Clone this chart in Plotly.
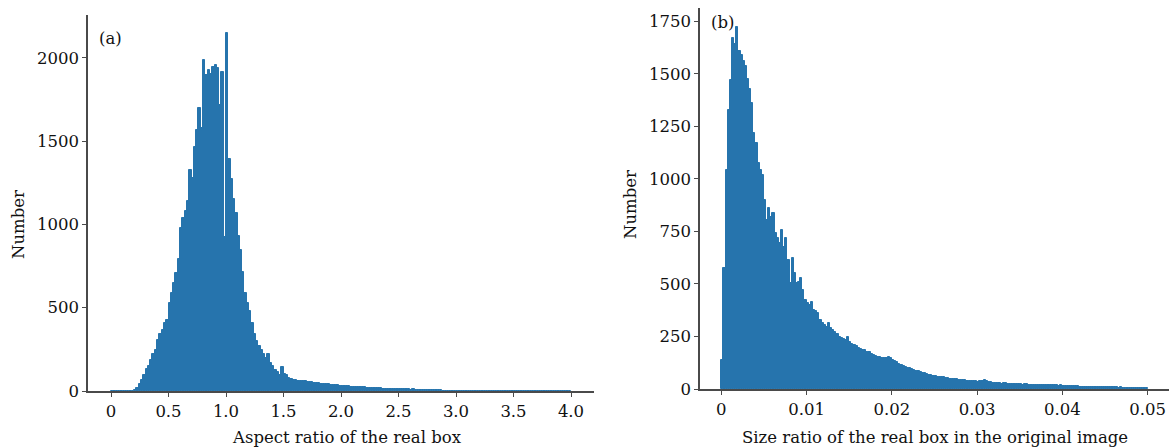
import numpy as np
import plotly.graph_objects as go

# ---------------- data ----------------
# (a) aspect ratio histogram: 200 bins of width 0.02 starting at 0
bin_start_a = 0.0
bin_width_a = 0.02
counts_a = [
    0, 0, 0, 0, 0, 0, 0, 0, 0, 3,
    8, 20, 40, 65, 95, 130, 150, 186, 220, 246,
    306, 340, 366, 406, 426, 526, 586, 646, 706, 790,
    976, 1040, 1080, 1140, 1326, 1276, 1466, 1566, 1696, 1576,
    1986, 1896, 1926, 1900, 1946, 1956, 1940, 1716, 1916, 926,
    2150, 1390, 1270, 1150, 1070, 930, 846, 716, 590, 530,
    480, 410, 340, 300, 270, 245, 220, 200, 225, 170,
    150, 125, 115, 95, 145, 105, 95, 80, 72, 68,
    64, 62, 60, 58, 60, 56, 54, 55, 50, 48,
    47, 45, 44, 42, 40, 38, 37, 36, 34, 33,
    32, 30, 29, 28, 27, 26, 25, 26, 24, 22,
    22, 21, 20, 20, 19, 18, 17, 16, 15, 15,
    14, 14, 13, 12, 13, 12, 11, 11, 10, 10,
    9, 12, 8, 8, 7, 7, 6, 6, 5, 5,
    5, 4, 4, 4, 3, 3, 3, 3, 2, 2,
    2, 2, 1, 2, 1, 1, 2, 1, 1, 1,
    1, 0, 1, 1, 0, 1, 0, 1, 0, 0,
    1, 0, 0, 1, 0, 0, 0, 1, 0, 0,
    0, 0, 1, 0, 0, 0, 0, 0, 1, 0,
    0, 0, 0, 0, 0, 1, 0, 0, 0, 1,
]

# (b) size ratio histogram: 200 bins of width 0.00025 starting at 0
bin_start_b = 0.0
bin_width_b = 0.00025
counts_b = [
    140, 575, 1045, 1330, 1470, 1670, 1645, 1725, 1610, 1590,
    1560, 1540, 1475, 1430, 1360, 1220, 1170, 1075, 1045, 1020,
    900, 805, 860, 820, 836, 741, 720, 693, 757, 678,
    717, 614, 503, 622, 551, 503, 510, 527, 471, 424,
    410, 400, 416, 376, 370, 360, 328, 313, 305, 297,
    313, 290, 281, 273, 262, 249, 241, 238, 233, 249,
    222, 214, 208, 204, 196, 192, 186, 184, 178, 176,
    168, 162, 158, 154, 152, 150, 146, 150, 152, 148,
    140, 132, 128, 120, 116, 110, 106, 100, 98, 94,
    90, 86, 85, 82, 78, 74, 72, 69, 66, 63,
    61, 59, 58, 56, 55, 54, 52, 50, 48, 46,
    46, 45, 44, 42, 41, 40, 40, 38, 37, 36,
    35, 36, 40, 43, 38, 34, 32, 30, 29, 27,
    27, 26, 28, 27, 25, 26, 24, 23, 22, 23,
    22, 21, 22, 22, 21, 20, 19, 20, 19, 19,
    19, 18, 19, 18, 19, 18, 17, 17, 16, 17,
    16, 15, 16, 15, 14, 13, 12, 12, 11, 11,
    11, 10, 11, 10, 9, 8, 9, 8, 9, 10,
    10, 9, 8, 9, 8, 8, 7, 8, 7, 7,
    6, 7, 6, 6, 6, 5, 6, 6, 5, 6,
]

xticks_a = [0, 0.5, 1.0, 1.5, 2.0, 2.5, 3.0, 3.5, 4.0]
xticklabels_a = ["0", "0.5", "1.0", "1.5", "2.0", "2.5", "3.0", "3.5", "4.0"]
yticks_a = [0, 500, 1000, 1500, 2000]
xticks_b = [0, 0.01, 0.02, 0.03, 0.04, 0.05]
xticklabels_b = ["0", "0.01", "0.02", "0.03", "0.04", "0.05"]
yticks_b = [0, 250, 500, 750, 1000, 1250, 1500, 1750]

xlabel_a = "Aspect ratio of the real box"
xlabel_b = "Size ratio of the real box in the original image"
ylabel = "Number"

# ---------------- figure ----------------
W, H = 1170, 448
BAR = "#2674ad"
AX = "#4a4a4a"
TXT = "#111111"
FONT = "DejaVu Serif"

x_a = bin_start_a + bin_width_a * (np.arange(len(counts_a)) + 0.5)
x_b = bin_start_b + bin_width_b * (np.arange(len(counts_b)) + 0.5)

fig = go.Figure()
fig.add_trace(go.Bar(x=x_a, y=counts_a, width=bin_width_a, marker=dict(color=BAR, line=dict(color=BAR, width=1)),
                     xaxis="x", yaxis="y", showlegend=False, hoverinfo="x+y"))
fig.add_trace(go.Bar(x=x_b, y=counts_b, width=bin_width_b, marker=dict(color=BAR, line=dict(color=BAR, width=1)),
                     xaxis="x2", yaxis="y2", showlegend=False, hoverinfo="x+y"))

def px_x(p):
    return p / W

def px_y(p):
    return 1 - p / H

axis_common = dict(showline=True, linecolor=AX, linewidth=1.5, ticks="outside", ticklen=4,
                   tickwidth=1.2, tickcolor=AX, showgrid=False, zeroline=False, automargin=False,
                   tickfont=dict(family=FONT, size=16.5, color=TXT))

fig.update_layout(
    width=W, height=H,
    margin=dict(l=0, r=0, t=0, b=0),
    paper_bgcolor="white", plot_bgcolor="white",
    bargap=0,
    xaxis=dict(domain=[px_x(88), px_x(594)], anchor="y", range=[-0.2, 4.2],
               tickvals=xticks_a, ticktext=xticklabels_a, **axis_common),
    yaxis=dict(domain=[px_y(391), px_y(15)], anchor="x", range=[0, 2257],
               tickvals=yticks_a, **axis_common),
    xaxis2=dict(domain=[px_x(700), px_x(1169)], anchor="y2", range=[-0.0025, 0.0525],
                tickvals=xticks_b, ticktext=xticklabels_b, **axis_common),
    yaxis2=dict(domain=[px_y(389), px_y(8)], anchor="x2", range=[0, 1814],
                tickvals=yticks_b, **axis_common),
    font=dict(family=FONT, color=TXT),
)

ann_font = dict(family=FONT, size=16.5, color=TXT)
fig.add_annotation(x=px_x(347), y=px_y(437), xref="paper", yref="paper", text=xlabel_a,
                   showarrow=False, font=ann_font, xanchor="center", yanchor="middle")
fig.add_annotation(x=px_x(935), y=px_y(437), xref="paper", yref="paper", text=xlabel_b,
                   showarrow=False, font=ann_font, xanchor="center", yanchor="middle")
fig.add_annotation(x=px_x(18), y=px_y(225), xref="paper", yref="paper", text=ylabel, textangle=-90,
                   showarrow=False, font=ann_font, xanchor="center", yanchor="middle")
fig.add_annotation(x=px_x(630), y=px_y(205), xref="paper", yref="paper", text=ylabel, textangle=-90,
                   showarrow=False, font=ann_font, xanchor="center", yanchor="middle")
fig.add_annotation(x=px_x(110), y=px_y(38), xref="paper", yref="paper", text="(a)",
                   showarrow=False, font=ann_font, xanchor="center", yanchor="middle")
fig.add_annotation(x=px_x(722), y=px_y(23), xref="paper", yref="paper", text="(b)",
                   showarrow=False, font=ann_font, xanchor="center", yanchor="middle")

fig.write_html("out.html", config={"displayModeBar": False},
               post_script="document.body.style.margin='0';document.body.style.overflow='hidden';")
